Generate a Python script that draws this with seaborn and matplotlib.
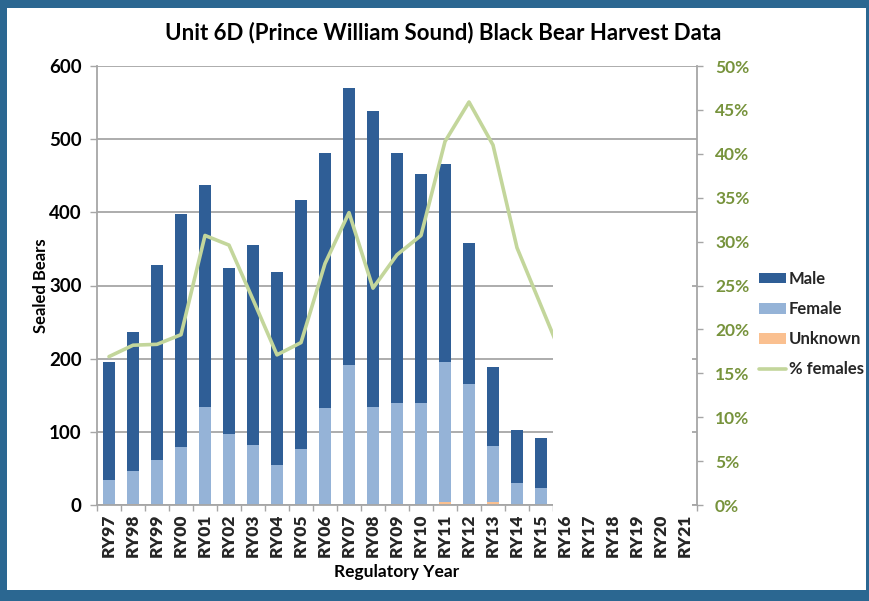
import numpy as np
import matplotlib
matplotlib.use('Agg')
import matplotlib.pyplot as plt
import seaborn as sns
from matplotlib.patches import Patch, Rectangle
from matplotlib.lines import Line2D
from matplotlib.ticker import FuncFormatter

# ---------------- data ----------------
all_years = ['RY97', 'RY98', 'RY99', 'RY00', 'RY01', 'RY02', 'RY03', 'RY04', 'RY05',
             'RY06', 'RY07', 'RY08', 'RY09', 'RY10', 'RY11', 'RY12', 'RY13', 'RY14',
             'RY15', 'RY16', 'RY17', 'RY18', 'RY19', 'RY20', 'RY21']
bar_years = all_years[:19]
male = [162, 189, 266, 319, 303, 227, 274, 264, 340, 349, 378, 404, 342, 313, 270, 192, 107, 73, 68]
female = [34, 46, 62, 79, 134, 97, 82, 54, 77, 132, 192, 134, 137, 140, 192, 165, 77, 30, 23]
unknown = [0, 1, 0, 0, 0, 0, 0, 0, 0, 0, 0, 0, 2, 0, 4, 1, 4, 0, 0]
line_years = all_years[:20]
pct_females = [16.9, 18.2, 18.3, 19.4, 30.7, 29.6, 23.4, 17.1, 18.5, 27.5, 33.3, 24.7,
               28.5, 30.7, 41.4, 45.9, 41.0, 29.3, 22.7, 16.1]
left_ticks = [0, 100, 200, 300, 400, 500, 600]
right_ticks = [0, 5, 10, 15, 20, 25, 30, 35, 40, 45, 50]

# ---------------- style ----------------
sns.set_theme(style='white')
plt.rcParams['font.family'] = ['Lato', 'DejaVu Sans']
plt.rcParams['font.weight'] = 'bold'

male_c = '#2F5E96'
female_c = '#95B3D7'
unk_c = '#FAC090'
line_c = '#C3D69B'
pct_c = '#77933C'
grid_c = '#A6A6A6'
frame_c = '#2B6791'

W, H = 870, 601
fig = plt.figure(figsize=(W / 100, H / 100), dpi=100)
fig.patch.set_facecolor('white')

ax1 = fig.add_axes([97 / W, 1 - 505 / H, 600 / W, 439 / H])
ax2 = ax1.twinx()

m = np.array(male)
f = np.array(female)
u = np.array(unknown)

common = dict(order=all_years, width=0.5, saturation=1, linewidth=0, ax=ax1)
sns.barplot(x=bar_years, y=m + f + u, color=male_c, **common)
sns.barplot(x=bar_years, y=f + u, color=female_c, **common)
sns.barplot(x=bar_years, y=u, color=unk_c, **common)

xpos = [all_years.index(y) for y in line_years]
sns.lineplot(x=xpos, y=pct_females, ax=ax2, color=line_c, lw=2.6, legend=False)

# ---------------- axes ----------------
ax1.set_xlim(-0.5, len(all_years) - 0.5)
ax1.set_ylim(0, 600)
ax1.set_yticks(left_ticks)
ax1.set_xticks(range(len(all_years)))
ax1.set_xticklabels(all_years)
ax1.set_xticks(np.arange(-0.5, len(all_years)), minor=True)
ax1.tick_params(axis='x', which='major', length=0, pad=6, labelsize=12.5, labelrotation=90)
ax1.tick_params(axis='x', which='minor', length=4, width=1, color=grid_c, direction='out', bottom=True)
ax1.tick_params(axis='y', length=5, width=1, color=grid_c, direction='out', left=True,
                labelsize=13.5, pad=6, labelcolor='black')
ax1.yaxis.grid(True, color=grid_c, lw=1.3)
ax1.set_axisbelow(True)
for s in ['top', 'right']:
    ax1.spines[s].set_visible(False)
for s in ['left', 'bottom']:
    ax1.spines[s].set_color(grid_c)
    ax1.spines[s].set_linewidth(1.3)

ax1.set_xlabel('Regulatory Year', fontsize=12.5, fontweight='bold', color='black')
ax1.set_ylabel('Sealed Bears', fontsize=12, fontweight='bold', color='black')
ax1.xaxis.set_label_coords(0.5, -0.135)
ax1.yaxis.set_label_coords(-0.08, 0.5)

ax2.set_ylim(0, 50)
ax2.set_yticks(right_ticks)
ax2.yaxis.set_major_formatter(FuncFormatter(lambda v, p: f'{int(v)}%'))
ax2.tick_params(axis='y', length=4, width=1, color=grid_c, direction='out', right=True,
                labelsize=12.5, pad=9, labelcolor=pct_c)
for s in ['top', 'left', 'bottom']:
    ax2.spines[s].set_visible(False)
ax2.spines['right'].set_color(grid_c)
ax2.spines['right'].set_linewidth(1.3)
ax2.set_ylabel('')
ax2.grid(False)

# white area over the future years (as in the reference)
box = Rectangle((18.5, -10), 24.3 - 18.5, 352, transform=ax1.transData,
                facecolor='white', edgecolor='none', zorder=2.2, clip_on=False)
ax2.add_artist(box)
ax1.set_xlim(-0.5, len(all_years) - 0.5)
ax2.set_ylim(0, 50)

# ---------------- title & legend ----------------
fig.text(443 / W, 1 - 33 / H, 'Unit 6D (Prince William Sound) Black Bear Harvest Data',
         ha='center', va='center', fontsize=16, fontweight='bold', color='black')

handles = [Patch(facecolor=male_c, edgecolor='none'),
           Patch(facecolor=female_c, edgecolor='none'),
           Patch(facecolor=unk_c, edgecolor='none'),
           Line2D([], [], color=line_c, lw=2.6)]
labels = ['Male', 'Female', 'Unknown', '% females']
fig.legend(handles, labels, loc='upper left', bbox_to_anchor=(759 / W, 1 - 271 / H),
           frameon=False, fontsize=12, handlelength=1.6, handleheight=0.6,
           handletextpad=0.2, labelspacing=0.85, borderpad=0, borderaxespad=0)

for lab in ax1.get_yticklabels() + ax2.get_yticklabels():
    lab.set_fontweight('bold')
for lab in ax1.get_xticklabels():
    lab.set_fontweight('heavy')

# ---------------- blue frame ----------------
for (x0, y0, w, h) in [(0, 0, W, 8), (0, 0, 7, H), (0, 590, W, 11), (W - 4, 0, 4, H)]:
    fig.patches.append(Rectangle((x0 / W, 1 - (y0 + h) / H), w / W, h / H,
                                 transform=fig.transFigure, facecolor=frame_c,
                                 edgecolor='none', zorder=10))

fig.savefig('out.png', dpi=100)
